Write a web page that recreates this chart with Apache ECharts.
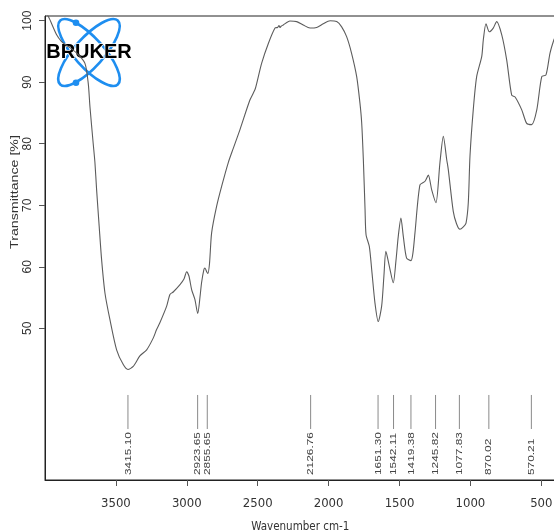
<!DOCTYPE html>
<html>
<head>
<meta charset="utf-8">
<script src="https://cdn.jsdelivr.net/npm/echarts@6/dist/echarts.min.js"></script>
<style>
  html, body { margin: 0; padding: 0; background: #fff; }
  #chart { width: 554px; height: 532px; }
</style>
</head>
<body>
<div id="chart"></div>
<script>
// IR spectrum: wavenumber (cm-1) and transmittance (%)
const wavenumbers = [
  4000, 3977, 3918, 3883, 3848, 3780, 3719, 3695, 3683, 3660, 3648, 3636, 3618, 3601,
  3577, 3542, 3495, 3448, 3415, 3378, 3331, 3283, 3237, 3213, 3190, 3142, 3119, 3096,
  3048, 3020, 3001, 2985, 2966, 2943, 2923, 2905, 2896, 2880, 2872, 2860, 2852, 2840,
  2825, 2790, 2754, 2708, 2673, 2625, 2555, 2519, 2507, 2472, 2425, 2378, 2360, 2350,
  2343, 2335, 2320, 2273, 2225, 2179, 2131, 2084, 2038, 1990, 1943, 1908, 1873, 1838,
  1802, 1779, 1767, 1755, 1743, 1736, 1713, 1696, 1673, 1650, 1626, 1610, 1596, 1572,
  1544, 1525, 1509, 1490, 1473, 1450, 1419, 1405, 1391, 1356, 1320, 1297, 1273, 1243,
  1215, 1191, 1167, 1156, 1121, 1098, 1074, 1050, 1031, 1015, 1003, 980, 956, 920,
  909, 890, 867, 839, 815, 779, 744, 709, 685, 638, 603, 568, 532, 497, 467, 439, 411, 400
];
const transmittance = [
  101.3, 100.7, 97.7, 96.6, 96.0, 94.8, 93.1, 89.8, 86.0, 80.0, 77.0, 72.5, 66.6, 61.2,
  55.7, 51.4, 46.5, 44.1, 43.3, 43.8, 45.5, 46.5, 48.4, 49.8, 50.9, 53.6, 55.5, 55.9,
  57.1, 58.0, 59.2, 58.5, 56.3, 54.7, 52.4, 55.5, 57.4, 59.5, 59.8, 59.2, 58.9, 60.5,
  65.5, 69.8, 73.1, 76.9, 79.2, 82.3, 87.1, 88.8, 89.8, 93.1, 96.3, 98.8, 98.9, 99.2,
  98.9, 99.1, 99.3, 99.95, 99.85, 99.3, 98.8, 98.9, 99.5, 100.0, 99.85, 99.0, 97.4, 94.7,
  90.9, 86.6, 83.5, 77.4, 69.3, 65.2, 63.3, 59.5, 54.1, 51.1, 53.6, 58.5, 62.5, 60.1,
  57.4, 61.0, 64.9, 67.9, 64.9, 61.4, 61.0, 62.3, 65.5, 73.3, 73.9, 74.9, 72.5, 70.4,
  76.9, 81.2, 77.4, 75.8, 69.0, 67.0, 66.1, 66.5, 67.1, 70.4, 78.0, 85.5, 90.9, 94.2,
  96.9, 99.5, 98.2, 98.8, 99.85, 97.7, 93.6, 87.9, 87.6, 85.5, 83.3, 83.1, 85.5, 90.9, 91.2, 94.7, 96.9, 97.4
];

// Picked band positions and their printed labels
const peakPositions = [3415.10, 2923.65, 2855.65, 2126.76, 1651.30, 1542.11, 1419.38, 1245.82, 1077.83, 870.02, 570.21];
const peakLabels = ['3415.10', '2923.65', '2855.65', '2126.76', '1651.30', '1542.11', '1419.38', '1245.82', '1077.83', '870.02', '570.21'];

// Axis ticks
const xTickValues = [3500, 3000, 2500, 2000, 1500, 1000, 500];
const yTickValues = [50, 60, 70, 80, 90, 100];

const spectrum = wavenumbers.map((w, i) => [w, transmittance[i]]);
const peaks = peakPositions.map((w, i) => [w, peakLabels[i]]);

const narrowFont = "'Liberation Sans Narrow', 'DejaVu Sans Condensed', 'Liberation Sans', sans-serif";
const sansFont = "'Liberation Sans', Arial, sans-serif";

const chart = echarts.init(document.getElementById('chart'), null, { renderer: 'canvas' });

chart.setOption({
  animation: false,
  backgroundColor: '#ffffff',
  grid: {
    left: 45, top: 16, width: 510.5, height: 464,
    outerBoundsMode: 'none',
    containLabel: false,
    show: true, borderColor: '#222', borderWidth: 1
  },
  xAxis: {
    type: 'value',
    min: 400, max: 4000,
    inverse: true,
    splitLine: { show: false },
    axisLine: { show: true, onZero: false, lineStyle: { color: '#222', width: 1 } },
    axisTick: { show: true, length: 6, customValues: xTickValues, lineStyle: { color: '#555' } },
    axisLabel: {
      customValues: xTickValues, margin: 17,
      formatter: (v) => String(v),
      fontFamily: narrowFont, fontSize: 13, color: '#333'
    },
    name: 'Wavenumber cm-1',
    nameLocation: 'middle',
    nameGap: 41,
    nameTextStyle: { fontFamily: narrowFont, fontSize: 11.5, color: '#333' }
  },
  yAxis: {
    type: 'value',
    min: 25.34, max: 100.76,
    splitLine: { show: false },
    axisLine: { show: true, lineStyle: { color: '#222', width: 1 } },
    axisTick: { show: true, length: 6, customValues: yTickValues, lineStyle: { color: '#555' } },
    axisLabel: {
      customValues: yTickValues, rotate: 90, margin: 11,
      formatter: (v) => String(v),
      fontFamily: sansFont, fontSize: 12, color: '#333'
    }
  },
  graphic: [
    {
      type: 'text', x: 15, y: 192, rotation: Math.PI / 2, scaleX: 1.29, z: 10,
      style: {
        text: 'Transmittance [%]', fontFamily: sansFont, fontSize: 11, fill: '#333',
        align: 'center', verticalAlign: 'middle'
      }
    },
    {
      type: 'group', x: 89, y: 52.5, z: 20,
      children: [
        { type: 'ellipse', rotation: 0.838, shape: { cx: 0, cy: 0, rx: 43, ry: 14.6 },
          style: { fill: 'none', stroke: '#1e8ef0', lineWidth: 2.6 } },
        { type: 'ellipse', rotation: -0.838, shape: { cx: 0, cy: 0, rx: 43, ry: 14.6 },
          style: { fill: 'none', stroke: '#1e8ef0', lineWidth: 2.6 } },
        { type: 'circle', shape: { cx: -13, cy: -29.8, r: 3.3 }, style: { fill: '#1e8ef0' } },
        { type: 'circle', shape: { cx: -13, cy: 30.2, r: 3.3 }, style: { fill: '#1e8ef0' } },
        { type: 'text', x: 0, y: 0,
          style: {
            text: 'BRUKER', fontFamily: sansFont, fontWeight: 'bold', fontSize: 20,
            fill: '#000', stroke: '#fff', lineWidth: 1.5,
            align: 'center', verticalAlign: 'middle'
          } }
      ]
    }
  ],
  series: [
    {
      type: 'line',
      data: spectrum,
      showSymbol: false,
      smooth: 0.25,
      clip: true,
      lineStyle: { color: '#5c5c5c', width: 1.1 },
      z: 3
    },
    {
      type: 'custom',
      data: peaks,
      z: 4,
      renderItem: function (params, api) {
        const w = api.value(0);
        const top = api.coord([w, 39.16]);
        const bottom = api.coord([w, 33.63]);
        const anchor = api.coord([w, 26.15]);
        return {
          type: 'group',
          children: [
            {
              type: 'line',
              shape: { x1: top[0], y1: top[1], x2: bottom[0], y2: bottom[1] },
              style: { stroke: '#8a8a8a', lineWidth: 1 }
            },
            {
              type: 'text',
              x: anchor[0], y: anchor[1],
              rotation: Math.PI / 2,
              scaleX: 1.25,
              style: {
                text: peakLabels[params.dataIndex],
                fontFamily: sansFont, fontSize: 9.5, fill: '#444',
                align: 'left', verticalAlign: 'middle'
              }
            }
          ]
        };
      }
    }
  ]
});
</script>
</body>
</html>
